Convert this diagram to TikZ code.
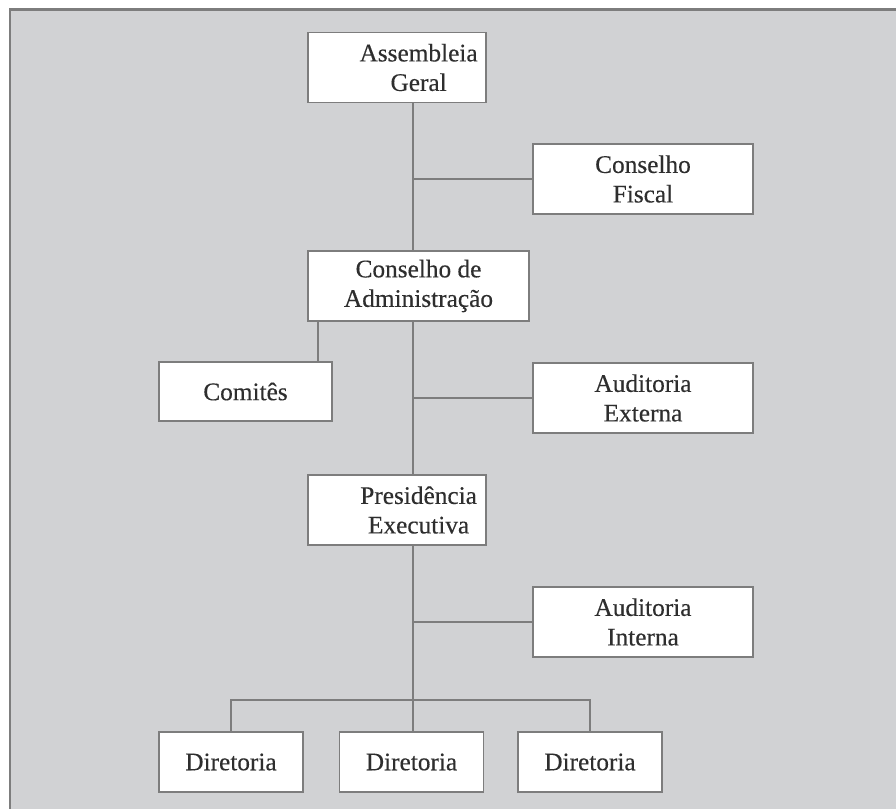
\documentclass[tikz,border=0pt]{standalone}
\usepackage{fontspec}
\setmainfont{Liberation Serif}[FakeBold=0.3]
\usepackage{tikz}
\definecolor{panelgray}{HTML}{D1D2D4}
\definecolor{linegray}{HTML}{7D7D7D}
\definecolor{textgray}{HTML}{2E2E2E}

\begin{document}
\begin{tikzpicture}[
    x=0.025cm, y=-0.025cm,
    unit/.style={rectangle, draw=linegray, line width=1.1pt, fill=white,
        inner sep=0pt, align=center, text=textgray,
        font=\fontsize{18}{21}\selectfont},
    wide/.style={unit, minimum width=5.5cm, minimum height=1.75cm},
    narrow/.style={unit, minimum width=4.45cm, minimum height=1.75cm},
    dept/.style={unit, minimum width=3.6cm, minimum height=1.5cm},
    caption/.style={align=center, text=textgray, inner sep=0pt,
        font=\fontsize{18}{21}\selectfont},
    link/.style={draw=linegray, line width=1.4pt, -}
]
    \useasboundingbox (0,0) rectangle (896,809);
    \fill[panelgray] (10,9.5) rectangle (900,815);
    \draw[linegray, line width=1.5pt] (10,815) -- (10,9.5) -- (900,9.5);

    \coordinate (spine) at (413,0);
    \coordinate (bus) at (413,700);

    \node[narrow, label={[caption, xshift=0.54cm]center:Assembleia\\Geral}] (geral) at (397,67.5) {};
    \node[wide] (fiscal) at (643,179) {Conselho\\Fiscal};
    \node[wide, minimum width=5.525cm] (admin) at (418.5,286) {Conselho de\\Administração};
    \node[unit, minimum width=4.325cm, minimum height=1.475cm] (comites) at (245.5,391.5) {Comitês};
    \node[wide] (externa) at (643,398) {Auditoria\\Externa};
    \node[narrow, label={[caption, xshift=0.54cm]center:Presidência\\Executiva}] (presid) at (397,510) {};
    \node[wide] (interna) at (643,622) {Auditoria\\Interna};
    \node[dept] (dir1) at (231,762) {Diretoria};
    \node[dept] (dir2) at (411.5,762) {Diretoria};
    \node[dept] (dir3) at (590,762) {Diretoria};

    \draw[link] (geral.south -| spine) -- (admin.north -| spine);
    \draw[link] (fiscal.west) -- (fiscal.west -| spine);
    \draw[link] (admin.south -| spine) -- (presid.north -| spine);
    \draw[link] (externa.west) -- (externa.west -| spine);
    \draw[link] ([xshift=-0.375cm]comites.north east) -- ([xshift=-0.375cm]comites.north east |- admin.south);
    \draw[link] (presid.south -| spine) -- (dir2.north -| spine);
    \draw[link] (interna.west) -- (interna.west -| spine);
    \draw[link] (dir1.north) |- (bus) -| (dir3.north);
\end{tikzpicture}
\end{document}
